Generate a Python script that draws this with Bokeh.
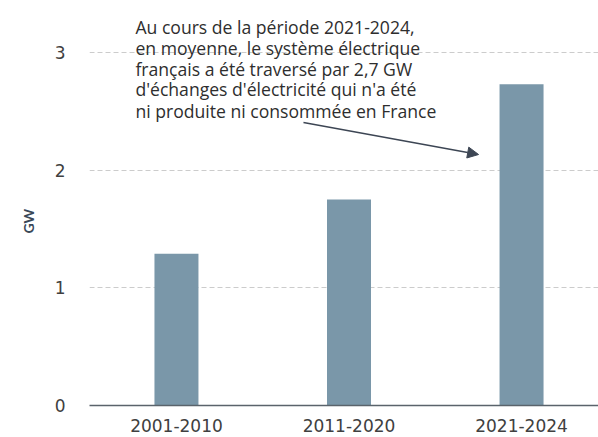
from bokeh.plotting import figure
from bokeh.models import ColumnDataSource, FixedTicker, Range1d, Label, Arrow, NormalHead, Title
from bokeh.embed import file_html
from bokeh.resources import INLINE

categories = ["2001-2010", "2011-2020", "2021-2024"]
values = [1.29, 1.75, 2.73]
y_ticks = [0, 1, 2, 3]
y_label = "GW"
note_lines = ["Au cours de la période 2021-2024,",
              "en moyenne, le système électrique",
              "français a été traversé par 2,7 GW",
              "d'échanges d'électricité qui n'a été",
              "ni produite ni consommée en France"]

xs = list(range(len(categories)))
src = ColumnDataSource(dict(x=xs, top=values, cat=categories))

p = figure(width=598, height=437, output_backend="svg", toolbar_location=None,
           x_range=Range1d(-0.504, 2.446), y_range=Range1d(0, 3.442),
           min_border_left=89, min_border_right=0, min_border_top=0, min_border_bottom=32)
p.outline_line_color = None

p.vbar(x="x", top="top", width=0.255, bottom=0, source=src,
       fill_color="#7a97a9", line_color=None)

p.xaxis.ticker = FixedTicker(ticks=xs)
p.xaxis.major_label_overrides = {i: c for i, c in zip(xs, categories)}
p.xaxis.major_tick_line_color = None
p.xaxis.minor_tick_line_color = None
p.xaxis.axis_line_color = "#5a636b"
p.xaxis.axis_line_width = 1.5
p.xaxis.major_label_text_font = "DejaVu Sans"
p.xaxis.major_label_text_font_size = "17px"
p.xaxis.major_label_text_color = "#404040"
p.xaxis.major_label_standoff = 7

p.yaxis.ticker = FixedTicker(ticks=y_ticks)
p.yaxis.axis_line_color = None
p.yaxis.major_tick_line_color = None
p.yaxis.minor_tick_line_color = None
p.yaxis.major_label_text_font = "DejaVu Sans"
p.yaxis.major_label_text_font_size = "17px"
p.yaxis.major_label_text_color = "#404040"
p.yaxis.major_label_standoff = 18

p.xgrid.grid_line_color = None
p.ygrid.grid_line_color = "#cccccc"
p.ygrid.grid_line_dash = "5 3"

# y axis title as a left-side title (offset shifts it up from the frame bottom)
p.add_layout(Title(text=y_label, align="left", vertical_align="top", offset=172, standoff=25,
                   text_font="Lato", text_font_style="bold", text_font_size="14px",
                   text_color="#3a4858"), "left")

# annotation text, one label per line
line_y = [3.221, 3.042, 2.864, 2.686, 2.507]
for t, yy in zip(note_lines, line_y):
    p.add_layout(Label(x=-0.238, y=yy, text=t, text_font="Open Sans",
                       text_font_size="17.6px", text_color="#2e2e2e",
                       text_align="left", text_baseline="alphabetic"))

p.add_layout(Arrow(x_start=0.736, y_start=2.405, x_end=1.751, y_end=2.133,
                   line_color="#3d4654", line_width=1.5,
                   end=NormalHead(size=11, fill_color="#3d4654", line_color="#3d4654")))

open("out.html", "w").write(file_html(p, INLINE))
